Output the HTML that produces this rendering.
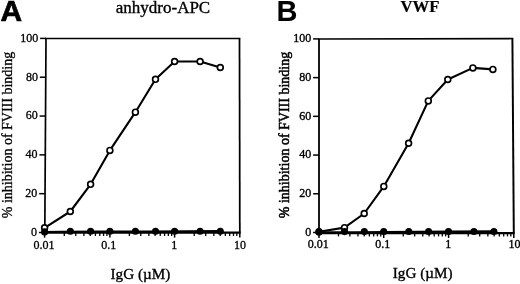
<!DOCTYPE html>
<html><head><meta charset="utf-8"><title>Figure</title>
<style>
html,body{margin:0;padding:0;background:#fff;overflow:hidden;}
svg{display:block;will-change:transform;font-family:"Liberation Serif",serif;fill:#000;}
</style></head><body>
<svg width="520" height="284" viewBox="0 0 520 284">
<rect width="520" height="284" fill="#fff"/>
<g id="panelA">
<line x1="45.20" y1="38.4" x2="240.35" y2="38.5" stroke="#000" stroke-width="1.55"/>
<line x1="46.0" y1="38.4" x2="44.8" y2="232.7" stroke="#000" stroke-width="1.7"/>
<line x1="239.5" y1="38.5" x2="239.8" y2="232.7" stroke="#000" stroke-width="1.75"/>
<line x1="43.95" y1="232.7" x2="240.65" y2="232.7" stroke="#000" stroke-width="2.2"/>
<line x1="38.90" y1="232.50" x2="44.80" y2="232.50" stroke="#000" stroke-width="1.5"/>
<text x="37.10" y="235.80" text-anchor="end" font-size="12" stroke="#000" stroke-width="0.3">0</text>
<line x1="39.14" y1="193.68" x2="45.04" y2="193.68" stroke="#000" stroke-width="1.5"/>
<text x="37.34" y="196.98" text-anchor="end" font-size="12" stroke="#000" stroke-width="0.3">20</text>
<line x1="39.38" y1="154.86" x2="45.28" y2="154.86" stroke="#000" stroke-width="1.5"/>
<text x="37.58" y="158.16" text-anchor="end" font-size="12" stroke="#000" stroke-width="0.3">40</text>
<line x1="39.62" y1="116.04" x2="45.52" y2="116.04" stroke="#000" stroke-width="1.5"/>
<text x="37.82" y="119.34" text-anchor="end" font-size="12" stroke="#000" stroke-width="0.3">60</text>
<line x1="39.86" y1="77.22" x2="45.76" y2="77.22" stroke="#000" stroke-width="1.5"/>
<text x="38.06" y="80.52" text-anchor="end" font-size="12" stroke="#000" stroke-width="0.3">80</text>
<line x1="40.10" y1="38.40" x2="46.00" y2="38.40" stroke="#000" stroke-width="1.5"/>
<text x="38.30" y="41.70" text-anchor="end" font-size="12" stroke="#000" stroke-width="0.3">100</text>
<line x1="44.60" y1="232.7" x2="44.60" y2="237.60" stroke="#000" stroke-width="1.5"/>
<text x="44.00" y="248.50" text-anchor="middle" font-size="12" stroke="#000" stroke-width="0.3">0.01</text>
<line x1="64.26" y1="232.7" x2="64.26" y2="236.00" stroke="#000" stroke-width="1.3"/>
<line x1="75.76" y1="232.7" x2="75.76" y2="236.00" stroke="#000" stroke-width="1.3"/>
<line x1="83.91" y1="232.7" x2="83.91" y2="236.00" stroke="#000" stroke-width="1.3"/>
<line x1="90.24" y1="232.7" x2="90.24" y2="236.00" stroke="#000" stroke-width="1.3"/>
<line x1="95.41" y1="232.7" x2="95.41" y2="236.00" stroke="#000" stroke-width="1.3"/>
<line x1="99.78" y1="232.7" x2="99.78" y2="236.00" stroke="#000" stroke-width="1.3"/>
<line x1="103.57" y1="232.7" x2="103.57" y2="236.00" stroke="#000" stroke-width="1.3"/>
<line x1="106.91" y1="232.7" x2="106.91" y2="236.00" stroke="#000" stroke-width="1.3"/>
<line x1="109.90" y1="232.7" x2="109.90" y2="237.60" stroke="#000" stroke-width="1.5"/>
<text x="108.70" y="248.50" text-anchor="middle" font-size="12" stroke="#000" stroke-width="0.3">0.1</text>
<line x1="129.38" y1="232.7" x2="129.38" y2="236.00" stroke="#000" stroke-width="1.3"/>
<line x1="140.77" y1="232.7" x2="140.77" y2="236.00" stroke="#000" stroke-width="1.3"/>
<line x1="148.85" y1="232.7" x2="148.85" y2="236.00" stroke="#000" stroke-width="1.3"/>
<line x1="155.12" y1="232.7" x2="155.12" y2="236.00" stroke="#000" stroke-width="1.3"/>
<line x1="160.25" y1="232.7" x2="160.25" y2="236.00" stroke="#000" stroke-width="1.3"/>
<line x1="164.58" y1="232.7" x2="164.58" y2="236.00" stroke="#000" stroke-width="1.3"/>
<line x1="168.33" y1="232.7" x2="168.33" y2="236.00" stroke="#000" stroke-width="1.3"/>
<line x1="171.64" y1="232.7" x2="171.64" y2="236.00" stroke="#000" stroke-width="1.3"/>
<line x1="174.60" y1="232.7" x2="174.60" y2="237.60" stroke="#000" stroke-width="1.5"/>
<text x="174.20" y="248.50" text-anchor="middle" font-size="12" stroke="#000" stroke-width="0.3">1</text>
<line x1="194.23" y1="232.7" x2="194.23" y2="236.00" stroke="#000" stroke-width="1.3"/>
<line x1="205.71" y1="232.7" x2="205.71" y2="236.00" stroke="#000" stroke-width="1.3"/>
<line x1="213.85" y1="232.7" x2="213.85" y2="236.00" stroke="#000" stroke-width="1.3"/>
<line x1="220.17" y1="232.7" x2="220.17" y2="236.00" stroke="#000" stroke-width="1.3"/>
<line x1="225.34" y1="232.7" x2="225.34" y2="236.00" stroke="#000" stroke-width="1.3"/>
<line x1="229.70" y1="232.7" x2="229.70" y2="236.00" stroke="#000" stroke-width="1.3"/>
<line x1="233.48" y1="232.7" x2="233.48" y2="236.00" stroke="#000" stroke-width="1.3"/>
<line x1="236.82" y1="232.7" x2="236.82" y2="236.00" stroke="#000" stroke-width="1.3"/>
<line x1="239.80" y1="232.7" x2="239.80" y2="237.60" stroke="#000" stroke-width="1.5"/>
<text x="240.10" y="248.50" text-anchor="middle" font-size="12" stroke="#000" stroke-width="0.3">10</text>
<polyline points="44.6,227.8 70.3,211.5 90.6,184.3 109.9,150.4 135.4,112.2 155.5,79.3 174.6,61.5 200.1,61.5 220.3,67.5" fill="none" stroke="#000" stroke-width="2.1" stroke-linejoin="round"/>
<circle cx="44.6" cy="227.8" r="2.9" fill="#fff" stroke="#000" stroke-width="1.65"/>
<circle cx="70.3" cy="211.5" r="2.9" fill="#fff" stroke="#000" stroke-width="1.65"/>
<circle cx="90.6" cy="184.3" r="2.9" fill="#fff" stroke="#000" stroke-width="1.65"/>
<circle cx="109.9" cy="150.4" r="2.9" fill="#fff" stroke="#000" stroke-width="1.65"/>
<circle cx="135.4" cy="112.2" r="2.9" fill="#fff" stroke="#000" stroke-width="1.65"/>
<circle cx="155.5" cy="79.3" r="2.9" fill="#fff" stroke="#000" stroke-width="1.65"/>
<circle cx="174.6" cy="61.5" r="2.9" fill="#fff" stroke="#000" stroke-width="1.65"/>
<circle cx="200.1" cy="61.5" r="2.9" fill="#fff" stroke="#000" stroke-width="1.65"/>
<circle cx="220.3" cy="67.5" r="2.9" fill="#fff" stroke="#000" stroke-width="1.65"/>
<polyline points="44.6,231.9 60,231.8 100,231.6 150,231.5 220.3,231.05" fill="none" stroke="#000" stroke-width="2"/>
<circle cx="44.6" cy="231.9" r="3.55" fill="#000"/>
<circle cx="70.3" cy="231.2" r="3.55" fill="#000"/>
<circle cx="90.6" cy="231.2" r="3.55" fill="#000"/>
<circle cx="109.9" cy="231.2" r="3.55" fill="#000"/>
<circle cx="135.4" cy="231.2" r="3.55" fill="#000"/>
<circle cx="155.5" cy="231.2" r="3.55" fill="#000"/>
<circle cx="174.6" cy="231.2" r="3.55" fill="#000"/>
<circle cx="200.1" cy="231.2" r="3.55" fill="#000"/>
<circle cx="220.3" cy="231.2" r="3.55" fill="#000"/>
<text x="163" y="13.1" text-anchor="middle" font-size="17.0" stroke="#000" stroke-width="0.35">anhydro-APC</text>
<text x="0.55" y="20.6" font-family="Liberation Sans, sans-serif" font-weight="bold" font-size="29.9" stroke="#000" stroke-width="0.7" stroke-linejoin="miter">A</text>
<text transform="translate(11.7,135) rotate(-90)" text-anchor="middle" font-size="14" stroke="#000" stroke-width="0.3">% inhibition of FVIII binding</text>
<text x="140.4" y="278.6" text-anchor="middle" font-size="15.2" stroke="#000" stroke-width="0.35">IgG (µM)</text>
</g>
<g id="panelB">
<line x1="318.20" y1="38.9" x2="513.25" y2="38.6" stroke="#000" stroke-width="1.55"/>
<line x1="319.0" y1="38.9" x2="319.0" y2="233.1" stroke="#000" stroke-width="1.8"/>
<line x1="512.4" y1="38.6" x2="513.8" y2="233.1" stroke="#000" stroke-width="1.95"/>
<line x1="318.15" y1="233.1" x2="514.65" y2="233.1" stroke="#000" stroke-width="2.4"/>
<line x1="313.10" y1="232.50" x2="319.00" y2="232.50" stroke="#000" stroke-width="1.5"/>
<text x="311.30" y="235.90" text-anchor="end" font-size="12" stroke="#000" stroke-width="0.35">0</text>
<line x1="313.10" y1="193.78" x2="319.00" y2="193.78" stroke="#000" stroke-width="1.5"/>
<text x="311.30" y="197.18" text-anchor="end" font-size="12" stroke="#000" stroke-width="0.35">20</text>
<line x1="313.10" y1="155.06" x2="319.00" y2="155.06" stroke="#000" stroke-width="1.5"/>
<text x="311.30" y="158.46" text-anchor="end" font-size="12" stroke="#000" stroke-width="0.35">40</text>
<line x1="313.10" y1="116.34" x2="319.00" y2="116.34" stroke="#000" stroke-width="1.5"/>
<text x="311.30" y="119.74" text-anchor="end" font-size="12" stroke="#000" stroke-width="0.35">60</text>
<line x1="313.10" y1="77.62" x2="319.00" y2="77.62" stroke="#000" stroke-width="1.5"/>
<text x="311.30" y="81.02" text-anchor="end" font-size="12" stroke="#000" stroke-width="0.35">80</text>
<line x1="313.10" y1="38.90" x2="319.00" y2="38.90" stroke="#000" stroke-width="1.5"/>
<text x="311.30" y="42.30" text-anchor="end" font-size="12" stroke="#000" stroke-width="0.35">100</text>
<line x1="319.00" y1="233.1" x2="319.00" y2="238.00" stroke="#000" stroke-width="1.5"/>
<text x="318.30" y="248.20" text-anchor="middle" font-size="12" stroke="#000" stroke-width="0.35">0.01</text>
<line x1="338.48" y1="233.1" x2="338.48" y2="236.40" stroke="#000" stroke-width="1.3"/>
<line x1="349.87" y1="233.1" x2="349.87" y2="236.40" stroke="#000" stroke-width="1.3"/>
<line x1="357.95" y1="233.1" x2="357.95" y2="236.40" stroke="#000" stroke-width="1.3"/>
<line x1="364.22" y1="233.1" x2="364.22" y2="236.40" stroke="#000" stroke-width="1.3"/>
<line x1="369.35" y1="233.1" x2="369.35" y2="236.40" stroke="#000" stroke-width="1.3"/>
<line x1="373.68" y1="233.1" x2="373.68" y2="236.40" stroke="#000" stroke-width="1.3"/>
<line x1="377.43" y1="233.1" x2="377.43" y2="236.40" stroke="#000" stroke-width="1.3"/>
<line x1="380.74" y1="233.1" x2="380.74" y2="236.40" stroke="#000" stroke-width="1.3"/>
<line x1="383.70" y1="233.1" x2="383.70" y2="238.00" stroke="#000" stroke-width="1.5"/>
<text x="382.80" y="248.20" text-anchor="middle" font-size="12" stroke="#000" stroke-width="0.35">0.1</text>
<line x1="403.24" y1="233.1" x2="403.24" y2="236.40" stroke="#000" stroke-width="1.3"/>
<line x1="414.67" y1="233.1" x2="414.67" y2="236.40" stroke="#000" stroke-width="1.3"/>
<line x1="422.77" y1="233.1" x2="422.77" y2="236.40" stroke="#000" stroke-width="1.3"/>
<line x1="429.06" y1="233.1" x2="429.06" y2="236.40" stroke="#000" stroke-width="1.3"/>
<line x1="434.20" y1="233.1" x2="434.20" y2="236.40" stroke="#000" stroke-width="1.3"/>
<line x1="438.55" y1="233.1" x2="438.55" y2="236.40" stroke="#000" stroke-width="1.3"/>
<line x1="442.31" y1="233.1" x2="442.31" y2="236.40" stroke="#000" stroke-width="1.3"/>
<line x1="445.63" y1="233.1" x2="445.63" y2="236.40" stroke="#000" stroke-width="1.3"/>
<line x1="448.60" y1="233.1" x2="448.60" y2="238.00" stroke="#000" stroke-width="1.5"/>
<text x="448.30" y="248.20" text-anchor="middle" font-size="12" stroke="#000" stroke-width="0.35">1</text>
<line x1="468.23" y1="233.1" x2="468.23" y2="236.40" stroke="#000" stroke-width="1.3"/>
<line x1="479.71" y1="233.1" x2="479.71" y2="236.40" stroke="#000" stroke-width="1.3"/>
<line x1="487.85" y1="233.1" x2="487.85" y2="236.40" stroke="#000" stroke-width="1.3"/>
<line x1="494.17" y1="233.1" x2="494.17" y2="236.40" stroke="#000" stroke-width="1.3"/>
<line x1="499.34" y1="233.1" x2="499.34" y2="236.40" stroke="#000" stroke-width="1.3"/>
<line x1="503.70" y1="233.1" x2="503.70" y2="236.40" stroke="#000" stroke-width="1.3"/>
<line x1="507.48" y1="233.1" x2="507.48" y2="236.40" stroke="#000" stroke-width="1.3"/>
<line x1="510.82" y1="233.1" x2="510.82" y2="236.40" stroke="#000" stroke-width="1.3"/>
<line x1="513.80" y1="233.1" x2="513.80" y2="238.00" stroke="#000" stroke-width="1.5"/>
<text x="514.60" y="248.20" text-anchor="middle" font-size="12" stroke="#000" stroke-width="0.35">10</text>
<polyline points="319,231.8 344.5,227.6 364.2,213.5 383.8,186.4 408.6,143.2 428.3,100.9 447.8,79.5 472.9,67.9 492.9,69.4" fill="none" stroke="#000" stroke-width="2.1" stroke-linejoin="round"/>
<circle cx="319" cy="231.8" r="2.9" fill="#fff" stroke="#000" stroke-width="1.65"/>
<circle cx="344.5" cy="227.6" r="2.9" fill="#fff" stroke="#000" stroke-width="1.65"/>
<circle cx="364.2" cy="213.5" r="2.9" fill="#fff" stroke="#000" stroke-width="1.65"/>
<circle cx="383.8" cy="186.4" r="2.9" fill="#fff" stroke="#000" stroke-width="1.65"/>
<circle cx="408.6" cy="143.2" r="2.9" fill="#fff" stroke="#000" stroke-width="1.65"/>
<circle cx="428.3" cy="100.9" r="2.9" fill="#fff" stroke="#000" stroke-width="1.65"/>
<circle cx="447.8" cy="79.5" r="2.9" fill="#fff" stroke="#000" stroke-width="1.65"/>
<circle cx="472.9" cy="67.9" r="2.9" fill="#fff" stroke="#000" stroke-width="1.65"/>
<circle cx="492.9" cy="69.4" r="2.9" fill="#fff" stroke="#000" stroke-width="1.65"/>
<polyline points="319,232.3 355,232.2 385,231.9 450,231.6 493.9,231.3" fill="none" stroke="#000" stroke-width="2"/>
<circle cx="319" cy="231.9" r="3.55" fill="#000"/>
<circle cx="344.5" cy="231.6" r="3.55" fill="#000"/>
<circle cx="364.3" cy="231.6" r="3.55" fill="#000"/>
<circle cx="383.7" cy="231.5" r="3.55" fill="#000"/>
<circle cx="408.8" cy="231.5" r="3.55" fill="#000"/>
<circle cx="428.6" cy="231.5" r="3.55" fill="#000"/>
<circle cx="448.5" cy="231.5" r="3.55" fill="#000"/>
<circle cx="473.9" cy="231.45" r="3.55" fill="#000"/>
<circle cx="493.9" cy="231.45" r="3.55" fill="#000"/>
<text x="420" y="12.4" text-anchor="middle" font-size="16.7" font-weight="bold" stroke="#000" stroke-width="0.2">VWF</text>
<text x="276.6" y="21.2" font-family="Liberation Sans, sans-serif" font-weight="bold" font-size="29" stroke="#000" stroke-width="0" stroke-linejoin="miter">B</text>
<text transform="translate(289,135) rotate(-90)" text-anchor="middle" font-size="14" stroke="#000" stroke-width="0.5">% inhibition of FVIII binding</text>
<text x="422.7" y="277.9" text-anchor="middle" font-size="15.2" stroke="#000" stroke-width="0.35">IgG (µM)</text>
</g>
</svg>
</body></html>
